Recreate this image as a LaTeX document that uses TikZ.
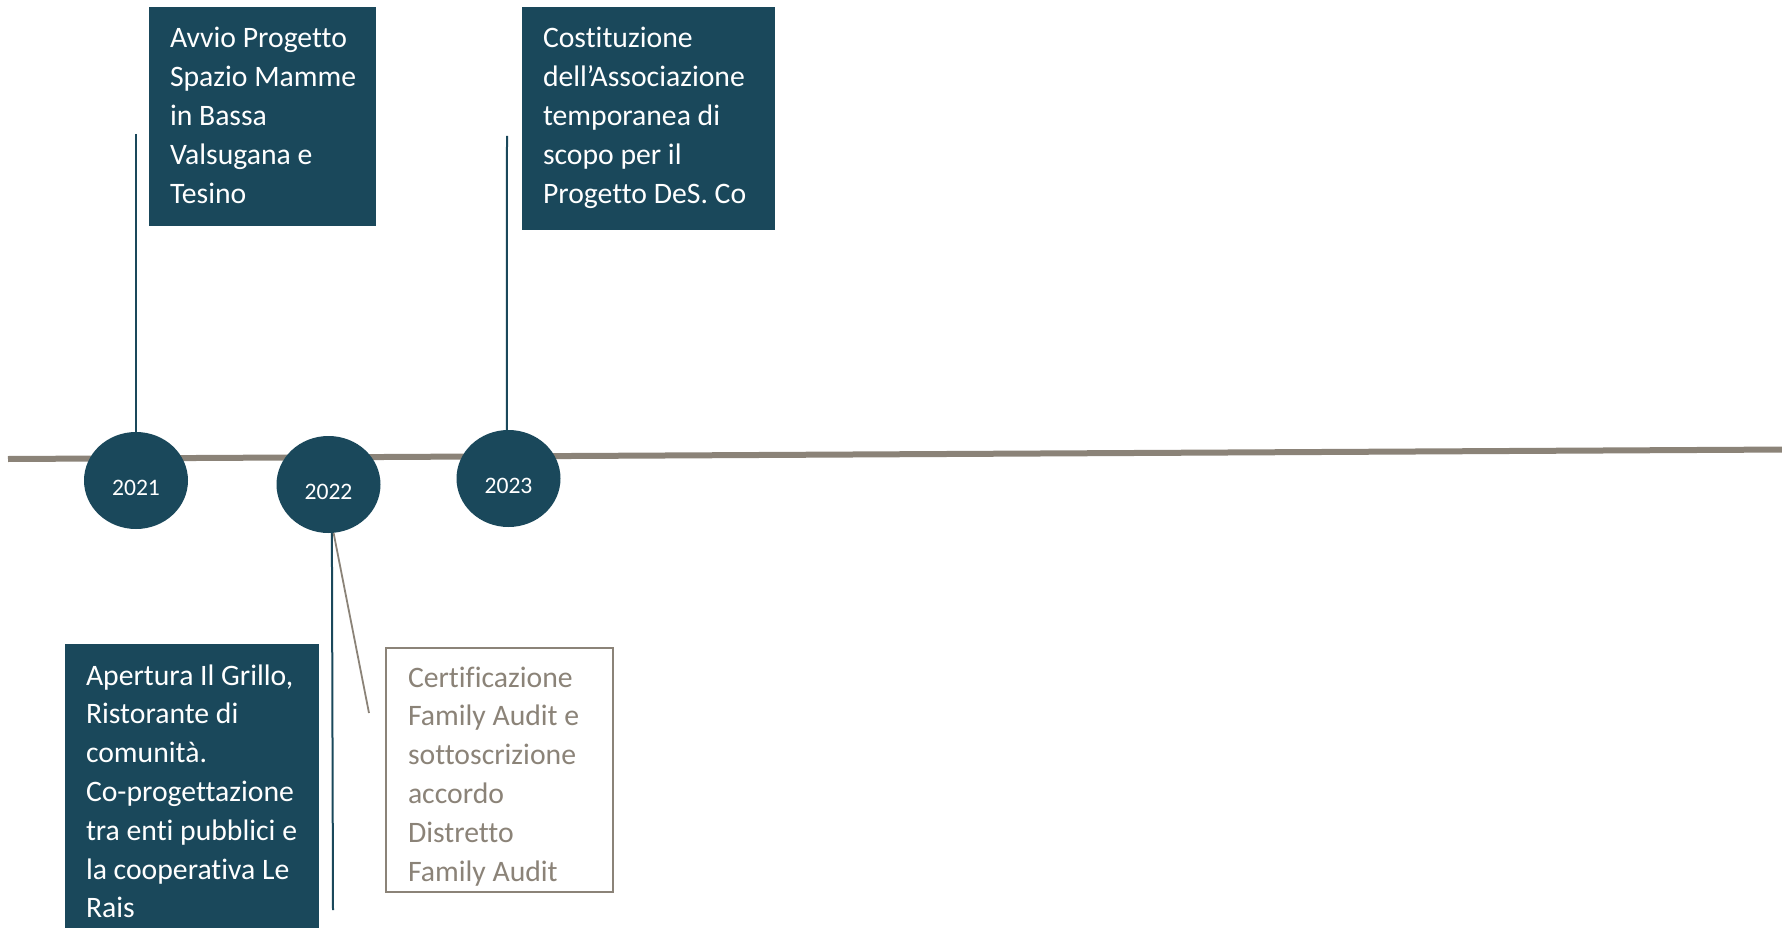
\documentclass[tikz,border=0pt]{standalone}
\usepackage{fontspec}
\setmainfont{Carlito}[Ligatures={NoCommon}]
\usetikzlibrary{shapes.geometric}
\definecolor{deepteal}{RGB}{26,72,91}
\definecolor{taupe}{RGB}{139,131,120}
\begin{document}
\begin{tikzpicture}[x=1pt,y=-1pt,
  evbox/.style={rectangle, fill=deepteal, text=white, align=flush left, anchor=north west,
    inner xsep=21pt, inner ysep=0pt, outer sep=0pt, font=\fontsize{29.7}{38.8}\selectfont},
  greybox/.style={rectangle, draw=taupe, line width=1.5pt, fill=white, text=taupe, align=flush left,
    anchor=north west, inner xsep=22pt, inner ysep=0pt, outer sep=0pt, font=\fontsize{29.7}{38.8}\selectfont},
  yearnode/.style={ellipse, fill=deepteal, text=white, minimum width=104pt, minimum height=97pt,
    inner sep=0pt, font=\fontsize{23.6}{27}\selectfont, text height=29.5pt, text depth=0pt},
  axisline/.style={draw=taupe, line width=6pt},
  tealline/.style={draw=deepteal, line width=2pt},
  taupeline/.style={draw=taupe, line width=1.8pt}]
\useasboundingbox (0,0) rectangle (1782,928);
\clip (0,0) rectangle (1782,928);

% timeline
\coordinate (axL) at (8,459);
\coordinate (axR) at (1790,449.5);
\draw[axisline] (axL) -- (axR);

% year nodes
\node[yearnode] (y1) at (136,480.5) {2021};
\node[yearnode] (y2) at (328.5,484.5) {2022};
\node[yearnode] (y3) at (508.5,478.5) {2023};

% event boxes
\node[evbox, text width=185pt, text height=41pt, text depth=178pt] (b1) at (149,7)
  {\mbox{Avvio Progetto}\\\mbox{Spazio Mamme}\\\mbox{in Bassa}\\\mbox{Valsugana e}\\Tesino};
\node[evbox, text width=211pt, text height=41pt, text depth=182pt] (b2) at (522,7)
  {Costituzione\\\mbox{dell’Associazione}\\\mbox{temporanea di}\\\mbox{scopo per il}\\\mbox{Progetto DeS. Co}};
\node[evbox, text width=212pt, text height=41pt, text depth=300pt] (b3) at (65,644)
  {\mbox{Apertura Il Grillo,}\\\mbox{Ristorante di}\\\mbox{comunità.}\\\mbox{Co-progettazione}\\\mbox{tra enti pubblici e}\\\mbox{la cooperativa Le}\\Rais};
\begin{scope}
  \clip (0,0) rectangle (1782,886);
  \node[greybox, text width=183pt, text height=39pt, text depth=205pt] (b4) at (386,648)
    {Certificazione\\\mbox{Family Audit e}\\sottoscrizione\\accordo\\Distretto\\\mbox{Family Audit}};
\end{scope}
\draw[draw=taupe, line width=1.5pt] (b4.south west) rectangle (b4.north east);

% connectors
\coordinate (c1top) at (136,134);
\coordinate (c2top) at (507,136);
\coordinate (c3end) at (333,910);
\coordinate (c4end) at (369,713);
\draw[tealline] (c1top) -- (y1.north);
\draw[tealline] (c2top) -- (y3.92);
\draw[tealline] (y2.-86) -- (c3end);
\draw[taupeline] (y2.-84) -- (c4end);
\end{tikzpicture}
\end{document}
